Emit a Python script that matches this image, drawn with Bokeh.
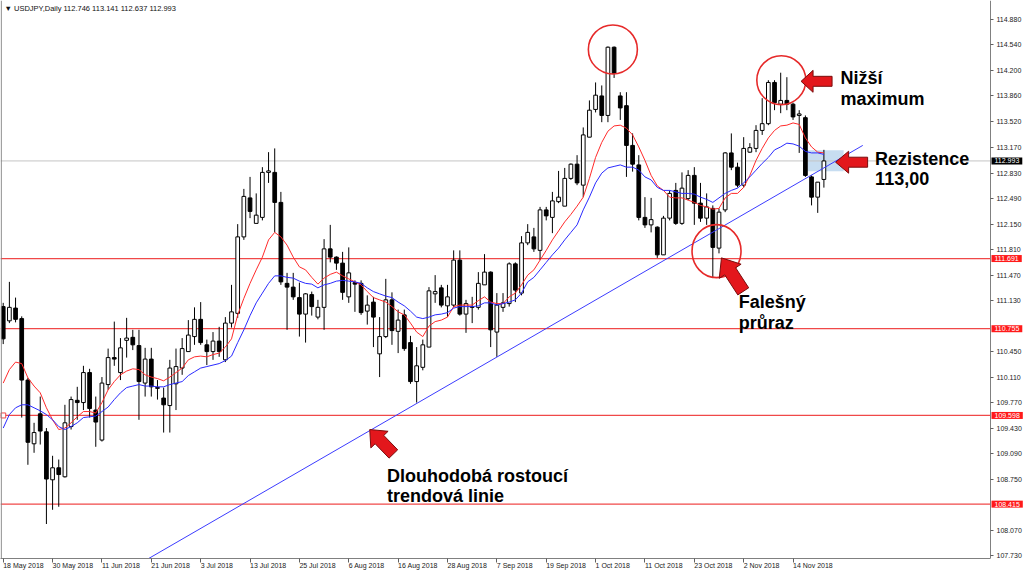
import math
from bokeh.plotting import figure
from bokeh.models import Range1d, FixedTicker, Label, ColumnDataSource, PrintfTickFormatter, Span
from bokeh.embed import file_html
from bokeh.resources import INLINE

# ---------------- data ----------------
tick_idx = [0, 8, 16, 24, 32, 40, 48, 56, 64, 72, 80, 88, 96, 104, 112, 120, 128]
tick_labels = ["18 May 2018", "30 May 2018", "11 Jun 2018", "21 Jun 2018", "3 Jul 2018",
               "13 Jul 2018", "25 Jul 2018", "6 Aug 2018", "16 Aug 2018", "28 Aug 2018",
               "7 Sep 2018", "19 Sep 2018", "1 Oct 2018", "11 Oct 2018", "23 Oct 2018",
               "2 Nov 2018", "14 Nov 2018"]

opens = [111.05, 110.86, 111.03, 110.89, 110.07, 109.22, 109.62, 109.38, 108.74, 108.90,
         108.78, 109.45, 109.80, 109.77, 110.17, 109.67, 109.27, 110.01, 110.37, 110.17,
         110.60, 110.64, 110.53, 110.03, 110.35, 109.97, 109.83, 109.73, 110.02, 110.23,
         110.45, 110.65, 110.88, 110.54, 110.45, 110.59, 110.34, 110.83, 110.96, 111.98,
         112.50, 112.16, 112.24, 112.84, 112.84, 112.44, 111.36, 111.31, 111.17, 110.95,
         111.21, 110.91, 111.04, 111.82, 111.71, 111.63, 111.18, 111.37, 111.36, 110.99,
         111.11, 110.42, 110.65, 111.14, 110.72, 110.94, 110.57, 110.05, 110.24, 110.51,
         111.22, 111.30, 111.06, 111.07, 111.67, 110.95, 111.05, 111.04, 111.34, 111.51,
         110.71, 111.04, 111.09, 111.62, 111.23, 111.90, 111.98, 111.80, 112.34, 112.24,
         112.45, 112.39, 112.76, 112.95, 112.67, 113.31, 113.68, 113.86, 113.60, 114.51,
         113.86, 113.73, 113.20, 112.94, 112.24, 112.14, 112.11, 111.74, 112.23, 112.60,
         112.16, 112.49, 112.80, 112.43, 112.23, 112.36, 111.83, 112.34, 113.10, 112.91,
         112.67, 113.11, 113.16, 113.40, 113.49, 114.04, 113.75, 113.80, 113.75, 113.60,
         113.57, 112.78, 112.51, 112.746]
highs = [111.10, 111.38, 111.17, 110.92, 110.10, 109.50, 109.85, 109.43, 109.06, 109.01,
         109.74, 109.85, 109.98, 110.26, 110.22, 109.85, 110.11, 110.49, 110.85, 110.63,
         110.90, 110.74, 110.74, 110.50, 110.50, 110.07, 109.97, 110.34, 110.49, 110.63,
         110.87, 111.04, 111.11, 110.61, 110.71, 110.78, 110.91, 111.34, 112.15, 112.62,
         112.78, 112.56, 112.91, 113.11, 113.16, 112.58, 111.50, 111.50, 111.37, 111.23,
         111.25, 111.14, 111.95, 112.14, 111.72, 111.78, 111.84, 111.40, 111.40, 111.20,
         111.18, 110.91, 111.42, 111.24, 111.01, 111.01, 110.66, 110.51, 110.61, 111.31,
         111.47, 111.34, 111.34, 111.80, 111.80, 111.14, 111.18, 111.51, 111.75, 111.52,
         111.23, 111.23, 111.64, 111.64, 111.99, 112.15, 112.10, 112.38, 112.38, 112.58,
         112.86, 112.90, 112.96, 113.07, 113.44, 113.80, 114.04, 114.00, 114.52, 114.52,
         113.91, 113.91, 113.36, 113.07, 112.51, 112.50, 112.12, 112.26, 112.60, 112.70,
         112.84, 112.87, 112.91, 112.70, 112.56, 112.40, 112.36, 113.11, 113.36, 112.97,
         113.31, 113.23, 113.47, 113.83, 114.07, 114.07, 114.17, 114.11, 113.77, 113.67,
         113.60, 112.80, 112.71, 113.141]
lows = [110.55, 110.83, 110.84, 109.57, 108.94, 109.10, 109.21, 108.15, 108.34, 108.38,
        108.77, 109.41, 109.54, 109.67, 109.57, 109.18, 109.25, 109.94, 110.26, 110.07,
        110.37, 110.47, 109.54, 109.85, 109.85, 109.81, 109.37, 109.37, 109.67, 110.14,
        110.45, 110.54, 110.54, 110.27, 110.34, 110.38, 110.31, 110.77, 110.90, 111.94,
        112.23, 112.16, 112.20, 112.70, 112.04, 111.34, 110.74, 111.14, 110.65, 110.57,
        110.93, 110.88, 110.74, 111.64, 111.54, 111.14, 111.10, 110.98, 110.94, 110.81,
        110.51, 110.11, 110.63, 110.54, 110.43, 110.46, 110.02, 109.77, 110.20, 110.51,
        111.10, 111.04, 110.91, 111.04, 110.93, 110.70, 110.83, 111.01, 111.34, 110.51,
        110.38, 110.98, 111.05, 111.11, 111.20, 111.87, 111.78, 111.67, 112.20, 112.03,
        112.43, 112.39, 112.74, 112.67, 112.51, 113.31, 113.64, 113.51, 113.51, 114.10,
        113.54, 112.78, 112.85, 112.20, 112.10, 112.04, 111.70, 111.74, 112.20, 112.14,
        112.14, 112.47, 112.14, 112.18, 112.14, 111.43, 111.76, 112.31, 112.87, 112.64,
        112.64, 113.10, 113.11, 113.34, 113.47, 113.67, 113.63, 113.67, 113.54, 113.10,
        112.78, 112.40, 112.30, 112.637]
closes = [110.62, 111.04, 110.88, 110.07, 109.24, 109.37, 109.39, 108.75, 108.90, 108.81,
          109.50, 109.81, 109.77, 110.17, 109.69, 109.51, 110.03, 110.37, 110.35, 110.50,
          110.63, 110.54, 110.05, 110.35, 109.98, 109.96, 109.74, 110.23, 110.25, 110.49,
          110.67, 110.88, 110.57, 110.45, 110.59, 110.45, 110.83, 110.98, 111.98, 112.52,
          112.32, 112.27, 112.84, 112.86, 112.44, 111.38, 111.31, 111.18, 110.95, 111.22,
          111.05, 111.04, 111.82, 111.71, 111.63, 111.24, 111.50, 111.35, 110.97, 111.07,
          110.91, 110.65, 111.14, 110.73, 110.87, 110.49, 110.05, 110.26, 110.54, 111.26,
          111.25, 111.07, 111.18, 111.67, 110.95, 111.09, 111.04, 111.36, 111.51, 110.74,
          111.07, 111.10, 111.62, 111.27, 111.90, 112.04, 111.82, 112.34, 112.26, 112.46,
          112.51, 112.76, 112.95, 112.70, 113.34, 113.67, 113.87, 113.60, 114.51, 114.16,
          113.70, 113.20, 112.95, 112.24, 112.14, 112.21, 111.74, 112.23, 112.56, 112.16,
          112.63, 112.80, 112.43, 112.23, 112.38, 111.84, 112.31, 113.10, 112.91, 112.67,
          113.16, 113.17, 113.40, 113.49, 114.04, 113.77, 113.80, 113.75, 113.58, 113.62,
          112.80, 112.51, 112.71, 112.993]

ma_fast = [110.03, 110.21, 110.31, 110.29, 110.10, 109.99, 109.90, 109.70, 109.54, 109.41,
           109.43, 109.50, 109.58, 109.65, 109.65, 109.63, 109.77, 109.94, 110.05, 110.14,
           110.19, 110.22, 110.21, 110.14, 110.11, 110.09, 110.06, 110.11, 110.17, 110.23,
           110.34, 110.38, 110.39, 110.38, 110.41, 110.43, 110.51, 110.62, 110.94, 111.16,
           111.36, 111.54, 111.71, 111.94, 112.04, 111.98, 111.87, 111.71, 111.58, 111.54,
           111.44, 111.35, 111.43, 111.48, 111.51, 111.46, 111.42, 111.38, 111.34, 111.25,
           111.17, 111.14, 111.11, 111.05, 110.98, 110.94, 110.83, 110.71, 110.65, 110.79,
           110.85, 110.87, 110.91, 111.05, 111.07, 111.07, 111.07, 111.13, 111.18, 111.11,
           111.09, 111.09, 111.18, 111.23, 111.34, 111.47, 111.54, 111.67, 111.80, 111.94,
           112.06, 112.18, 112.28, 112.39, 112.51, 112.76, 113.04, 113.24, 113.39, 113.46,
           113.47, 113.43, 113.34, 113.18, 113.00, 112.80, 112.66, 112.60, 112.51, 112.50,
           112.50, 112.47, 112.44, 112.40, 112.38, 112.35, 112.36, 112.50, 112.56, 112.56,
           112.64, 112.80, 113.00, 113.16, 113.30, 113.40, 113.46, 113.47, 113.50, 113.48,
           113.30, 113.18, 113.11, 113.10]
ma_slow = [109.43, 109.61, 109.70, 109.74, 109.74, 109.70, 109.66, 109.61, 109.54, 109.45,
           109.41, 109.45, 109.50, 109.57, 109.58, 109.59, 109.65, 109.71, 109.81, 109.90,
           109.97, 109.99, 110.01, 109.99, 109.99, 109.98, 109.98, 110.01, 110.03, 110.05,
           110.13, 110.18, 110.23, 110.25, 110.27, 110.29, 110.33, 110.39, 110.57, 110.74,
           110.93, 111.10, 111.23, 111.36, 111.46, 111.46, 111.44, 111.43, 111.39, 111.36,
           111.35, 111.30, 111.34, 111.36, 111.39, 111.40, 111.39, 111.38, 111.36, 111.30,
           111.25, 111.22, 111.19, 111.17, 111.11, 111.06, 110.99, 110.91, 110.89, 110.91,
           110.94, 110.95, 110.97, 111.03, 111.05, 111.05, 111.05, 111.06, 111.10, 111.10,
           111.07, 111.09, 111.11, 111.14, 111.23, 111.38, 111.44, 111.54, 111.64, 111.74,
           111.83, 111.94, 112.04, 112.14, 112.34, 112.51, 112.70, 112.83, 112.90, 112.92,
           112.94, 112.91, 112.91, 112.87, 112.78, 112.74, 112.64, 112.60, 112.60, 112.58,
           112.56, 112.56, 112.55, 112.51, 112.48, 112.44, 112.50, 112.56, 112.60, 112.63,
           112.70, 112.78, 112.87, 112.96, 113.04, 113.14, 113.18, 113.23, 113.22, 113.19,
           113.12, 113.10, 113.10, 113.08]

levels = [111.691, 110.755, 109.598, 108.415]
bid_level = 112.993
price_ticks = [114.88, 114.54, 114.20, 113.86, 113.52, 113.17, 112.83, 112.49, 112.15, 111.81,
               111.47, 111.13, 110.45, 110.11, 109.77, 109.43, 109.09, 108.75, 108.07, 107.73]
trend_x = [20.0, 139.3]
trend_y = [107.52, 113.20]
title_text = "\u25bc USDJPY,Daily  112.746 113.141 112.637 112.993"

# ---------------- layout ----------------
W, H = 1024, 575
MB = 16
x0 = -0.44
x_axis_pos = 160.0                       # price scale sits here (right edge of the chart area)
x_end = x0 + (x_axis_pos - x0) * W / 990.0
y0, y1 = 107.69, 115.133
frame_h = H - MB
ppx = W / (x_end - x0)
ppy = frame_h / (y1 - y0)

FONT = "Liberation Sans"

p = figure(width=W, height=H, x_range=Range1d(x0, x_end), y_range=Range1d(y0, y1),
           output_backend="svg", toolbar_location=None, y_axis_location="right",
           min_border_left=0, min_border_right=0, min_border_top=0, min_border_bottom=MB)
p.background_fill_color = "white"
p.border_fill_color = "white"
p.outline_line_color = None
p.xgrid.visible = False
p.ygrid.visible = False

# axes
p.yaxis.ticker = FixedTicker(ticks=price_ticks)
p.yaxis.formatter = PrintfTickFormatter(format="%.3f")
p.yaxis.fixed_location = x_axis_pos
p.xaxis.ticker = FixedTicker(ticks=tick_idx)
p.xaxis.major_label_overrides = {i: t for i, t in zip(tick_idx, tick_labels)}
p.xaxis.bounds = (x0, x_axis_pos)
for ax in (p.xaxis[0], p.yaxis[0]):
    ax.axis_line_color = "#808080"
    ax.major_tick_line_color = "#606060"
    ax.minor_tick_line_color = None
    ax.major_tick_in = 0
    ax.major_label_text_font = FONT
    ax.major_label_text_font_size = "7px"
    ax.major_label_text_color = "#1a1a1a"
p.yaxis.major_tick_out = 3
p.yaxis.major_label_standoff = 3
p.xaxis.major_tick_out = 4
p.xaxis.major_label_standoff = 3
p.xaxis.major_label_orientation = -0.0001

# left border of the chart window
p.add_layout(Span(location=x0 + 0.12, dimension="height", line_color="#808080", line_width=1))

# highlight zone
p.quad(left=[130.4], right=[136.2], top=[113.136], bottom=[112.856],
       fill_color="#a9cbe9", fill_alpha=0.65, line_color=None)

# horizontal levels (chart area only)
n = len(levels)
p.segment(x0=[x0] * n, y0=levels, x1=[x_axis_pos] * n, y1=levels,
          line_color="#f04848", line_width=1.2)
p.segment(x0=[x0], y0=[bid_level], x1=[x_axis_pos], y1=[bid_level],
          line_color="#c4c4c4", line_width=1)
p.scatter(x=[0], y=[levels[2]], marker="square", size=5, fill_color="white", line_color="#f04848")

# candles
idx = list(range(len(opens)))
up = [c >= o for o, c in zip(opens, closes)]
src_up = ColumnDataSource(dict(
    x=[i for i in idx if up[i]],
    top=[closes[i] for i in idx if up[i]],
    bottom=[opens[i] for i in idx if up[i]]))
src_dn = ColumnDataSource(dict(
    x=[i for i in idx if not up[i]],
    top=[opens[i] for i in idx if not up[i]],
    bottom=[closes[i] for i in idx if not up[i]]))
p.segment(x0=idx, y0=highs, x1=idx, y1=lows, line_color="black", line_width=1)
p.vbar(x="x", top="top", bottom="bottom", width=0.6, source=src_up,
       fill_color="white", line_color="black", line_width=1)
p.vbar(x="x", top="top", bottom="bottom", width=0.6, source=src_dn,
       fill_color="black", line_color="black", line_width=1)

# moving averages and trendline
p.line(idx, ma_fast, line_color="#ff2a2a", line_width=1)
p.line(idx, ma_slow, line_color="#2a2aff", line_width=1)
p.line(trend_x, trend_y, line_color="#3c3cff", line_width=1)

# circles
p.ellipse(x=[98.8, 126.1, 115.6], y=[114.48, 114.07, 111.79],
          width=[49, 49, 49], height=[49, 49, 53], width_units="screen", height_units="screen",
          fill_color=None, line_color="#e62a2a", line_width=1.6)

# arrows
def arrow_poly(tip_x, tip_y, ang_deg, L, hl, hw, sw):
    a = math.radians(ang_deg)
    dx, dy = math.cos(a), math.sin(a)
    nx, ny = -dy, dx
    pts = [(0, 0), (-hl, hw), (-hl, sw), (-L, sw), (-L, -sw), (-hl, -sw), (-hl, -hw)]
    xs, ys = [], []
    for u, v in pts:
        sx = u * dx + v * nx
        sy = u * dy + v * ny
        xs.append(tip_x + sx / ppx)
        ys.append(tip_y - sy / ppy)
    return xs, ys

arrows = [
    (129.3, 114.055, 180, 31, 12, 11, 5),
    (134.9, 112.976, 180, 32, 13, 11, 5),
    (116.4, 111.70, -123, 40, 16, 13, 6.5),
    (59.4, 109.41, -134, 34, 14, 12, 6),
]
axs, ays = [], []
for a in arrows:
    xs, ys = arrow_poly(*a)
    axs.append(xs)
    ays.append(ys)
p.patches(axs, ays, fill_color="#e3171c", line_color="#7a0d0d", line_width=1)

# annotation texts
notes = [
    ("Ni\u017e\u0161\u00ed", 135.7, 114.098), ("maximum", 135.7, 113.815),
    ("Rezistence", 141.3, 113.025), ("113,00", 141.3, 112.759),
    ("Fale\u0161n\u00fd", 119.2, 111.112), ("pr\u016fraz", 119.2, 110.832),
    ("Dlouhodob\u00e1 rostouc\u00ed", 62.2, 108.795), ("trendov\u00e1 linie", 62.2, 108.529),
]
for t, x, y in notes:
    p.add_layout(Label(x=x, y=y, text=t, text_font=FONT, text_font_style="bold",
                       text_font_size="18px", text_color="black",
                       text_baseline="alphabetic", text_align="left"))

# title
p.add_layout(Label(x=x0, y=y1, x_offset=4, y_offset=-3, text=title_text, text_font=FONT,
                   text_font_size="7.5px", text_color="#111111", text_baseline="top"))

# price tags on the price scale
def price_label(val, bg):
    lab = Label(x=x_axis_pos, y=val, x_offset=1, text=f"{val:.3f}", text_font=FONT,
                text_font_size="7px", text_color="white", text_baseline="middle",
                text_align="left", background_fill_color=bg)
    if "padding" in lab.properties():
        lab.padding = (3, 1)
    p.add_layout(lab)

price_label(bid_level, "black")
for lv in levels:
    price_label(lv, "#ff1a1a")

open("out.html", "w").write(file_html(p, INLINE))
